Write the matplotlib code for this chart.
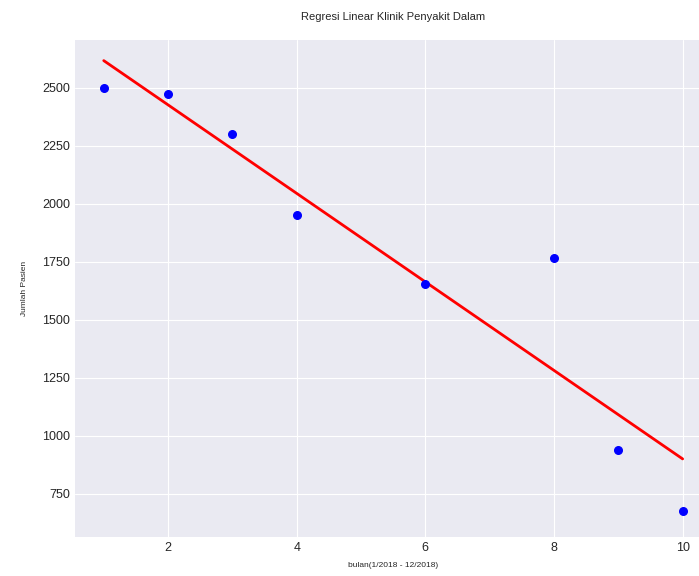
import matplotlib
matplotlib.use("Agg")
import matplotlib.pyplot as plt
import numpy as np

plt.style.use("seaborn-v0_8-darkgrid")

bulan = np.array([1, 2, 3, 4, 6, 8, 9, 10])
pasien = np.array([2500, 2475, 2300, 1950, 1655, 1767, 940, 675])

# garis regresi linear (least squares)
m, c = np.polyfit(bulan, pasien, 1)
prediksi = m * bulan + c

fig = plt.figure(figsize=(6.99, 5.76), dpi=100)
ax = fig.add_axes([0.107, 0.068, 0.911, 0.863])
ax.scatter(bulan, pasien, color="blue", s=30, zorder=3)
ax.plot(bulan, prediksi, color="red", linewidth=2, zorder=2)
ax.set_ylim(565, 2707)

ax.set_title("Regresi Linear Klinik Penyakit Dalam", fontsize=8, pad=14)
ax.set_xlabel("bulan(1/2018 - 12/2018)", fontsize=6, labelpad=6)
ax.set_ylabel("Jumlah Pasien", fontsize=6, labelpad=10)
ax.tick_params(labelsize=9)

fig.savefig("out.png", dpi=100)
